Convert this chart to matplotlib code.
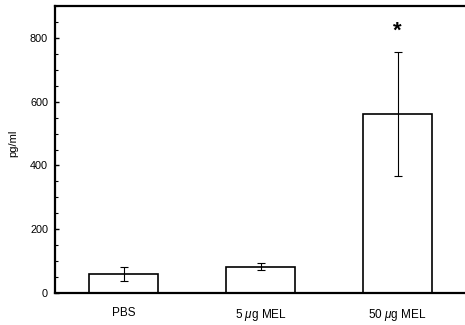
import matplotlib
matplotlib.use("Agg")
import matplotlib.pyplot as plt
from matplotlib.ticker import MultipleLocator

categories = ["PBS", "5 $\\mu$g MEL", "50 $\\mu$g MEL"]
values = [60, 82, 562]
errors = [21, 11, 194]
yticks = [0, 200, 400, 600, 800]

plt.rcParams['font.family'] = ['Liberation Sans', 'DejaVu Sans']
plt.rcParams['mathtext.fontset'] = 'custom'
plt.rcParams['mathtext.it'] = 'Liberation Sans:italic'
plt.rcParams['mathtext.rm'] = 'Liberation Sans'

fig = plt.figure(figsize=(4.65, 3.25), dpi=100)
ax = fig.add_axes([55/465, 32/325, 411/465, 287/325])

x = list(range(len(categories)))
ax.bar(x, values, width=0.5, color='white', edgecolor='black', linewidth=1.2, zorder=2)
ax.errorbar(x, values, yerr=errors, fmt='none', ecolor='black', elinewidth=0.8,
            capsize=3, capthick=0.8, zorder=3)

ax.text(2, 822, '*', ha='center', va='center', fontsize=16, fontweight='bold')

ax.set_xlim(-0.5, 2.5)
ax.set_ylim(0, 900)
ax.set_xticks(x)
ax.set_xticklabels(categories, fontsize=8.5)
ax.set_yticks(yticks)
ax.set_yticklabels([str(t) for t in yticks], fontsize=7.8)
ax.yaxis.set_minor_locator(MultipleLocator(50))
ax.tick_params(axis='y', which='major', direction='in', length=3, width=1, pad=5)
ax.tick_params(axis='y', which='minor', direction='in', length=2, width=0.8)
ax.tick_params(axis='x', length=0, pad=10)
ax.set_ylabel('pg/ml', fontsize=8)
ax.yaxis.set_label_coords(-0.09, 0.52)

for s in ['left', 'bottom', 'top']:
    ax.spines[s].set_linewidth(1.6)
ax.spines['right'].set_visible(False)

fig.savefig('out.png', dpi=100)
